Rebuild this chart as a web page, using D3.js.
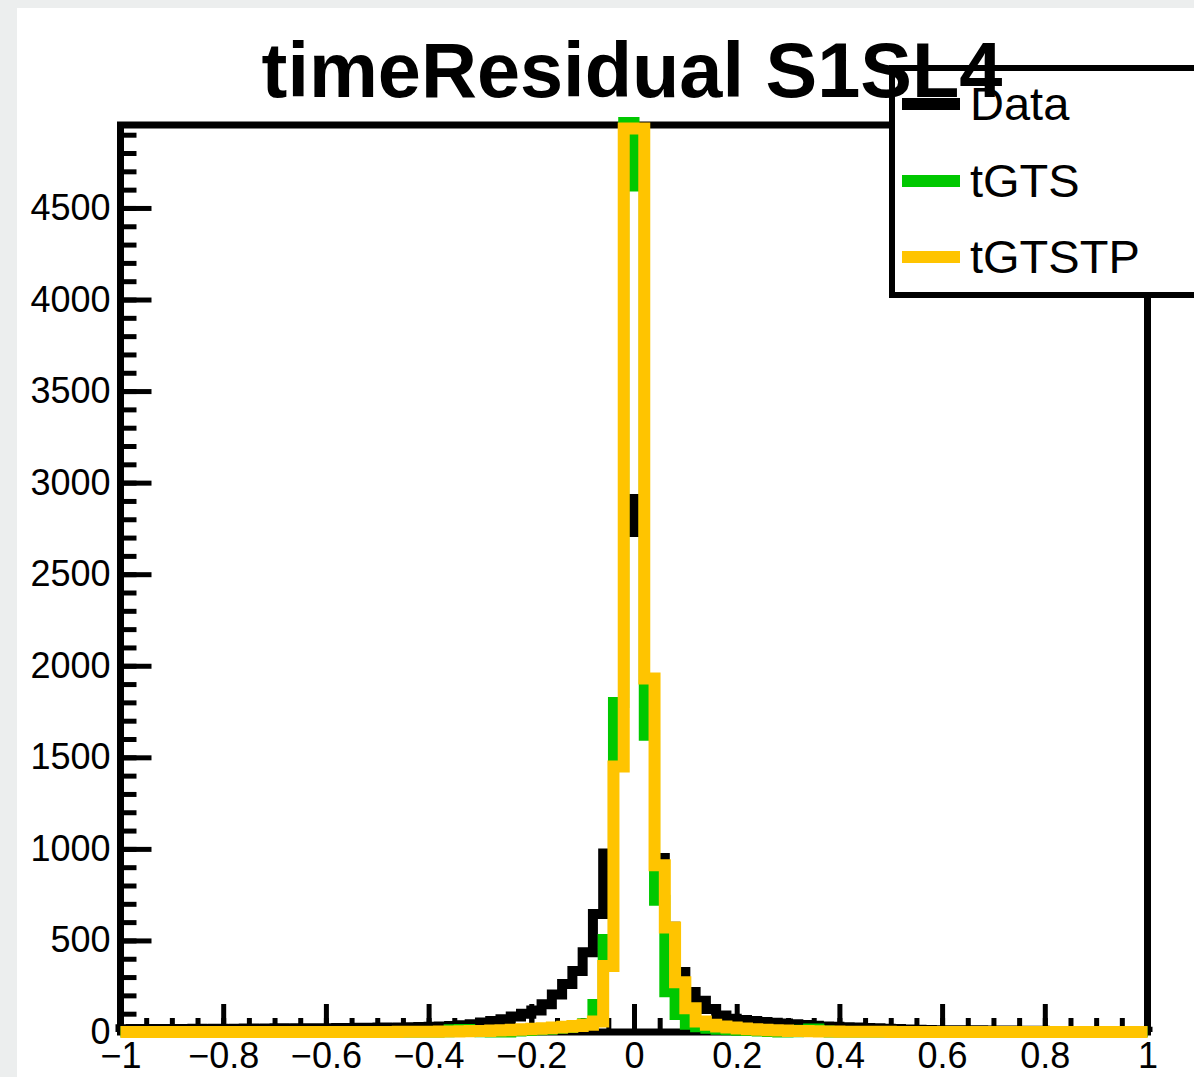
<!DOCTYPE html>
<html>
<head>
<meta charset="utf-8">
<script src="https://cdn.jsdelivr.net/npm/d3@7"></script>
<style>
    html, body { margin: 0; padding: 0; background: #eceeee; }
    svg { display: block; }
</style>
</head>
<body>
<svg id="chart" width="1194" height="1077"></svg>
<script>
// histogram binning: 100 bins of 0.02 from -1 to 1
const binStart = -1, binEnd = 1, binWidth = 0.02;

// bin counts, left to right
const dataCounts = [
    15, 16, 15, 17, 16, 17, 16, 18, 17, 18,
    17, 18, 19, 18, 19, 20, 19, 20, 21, 20,
    21, 22, 21, 23, 22, 24, 23, 25, 26, 27,
    28, 30, 33, 37, 43, 52, 60, 70, 85, 100,
    118, 152, 205, 262, 333, 436, 645, 975, 1450, 2910,
    2730, 1910, 950, 575, 328, 218, 170, 125, 90, 72,
    66, 60, 55, 50, 46, 42, 38, 34, 30, 28,
    26, 24, 22, 20, 18, 16, 14, 12, 11, 10,
    10, 9, 9, 9, 8, 8, 8, 7, 7, 7,
    5, 4, 4, 3, 3, 3, 2, 2, 2, 1
];
const tgtsCounts = [
    0, 0, 0, 0, 0, 0, 0, 0, 0, 0,
    0, 0, 0, 0, 0, 0, 0, 0, 0, 0,
    0, 0, 0, 0, 0, 0, 0, 0, 0, 0,
    0, 2, 12, 14, 4, 2, 0, 0, 5, 8,
    12, 15, 20, 25, 30, 45, 150, 505, 1800, 4967,
    4620, 1620, 720, 220, 95, 42, 28, 20, 15, 12,
    10, 8, 6, 3, 0, 2, 10, 16, 6, 0,
    0, 0, 0, 0, 0, 0, 0, 0, 0, 0,
    0, 0, 0, 0, 0, 0, 0, 0, 0, 0,
    0, 0, 0, 0, 0, 0, 0, 0, 0, 0
];
const tgtstpCounts = [
    0, 0, 0, 0, 0, 0, 0, 0, 0, 0,
    0, 0, 0, 0, 0, 0, 0, 0, 0, 0,
    0, 0, 0, 0, 0, 0, 0, 1, 1, 2,
    2, 3, 3, 4, 5, 6, 8, 10, 12, 15,
    18, 21, 24, 28, 33, 40, 58, 360, 1450, 4934,
    4934, 1930, 910, 570, 272, 130, 58, 40, 30, 24,
    19, 15, 12, 10, 8, 6, 5, 4, 3, 3,
    2, 2, 1, 1, 1, 0, 0, 0, 0, 0,
    0, 0, 0, 0, 0, 0, 0, 0, 0, 0,
    0, 0, 0, 0, 0, 0, 0, 0, 0, 0
];

const seriesNames = ['Data', 'tGTS', 'tGTSTP'];
const seriesColors = ['#000000', '#00c800', '#ffc400'];
const seriesWidths = [10, 11, 12];

const xTicks = [-1, -0.8, -0.6, -0.4, -0.2, 0, 0.2, 0.4, 0.6, 0.8, 1];
const xTickLabels = ['\u22121', '\u22120.8', '\u22120.6', '\u22120.4', '\u22120.2', '0', '0.2', '0.4', '0.6', '0.8', '1'];
const yTicks = [0, 500, 1000, 1500, 2000, 2500, 3000, 3500, 4000, 4500];
const yTickLabels = ['0', '500', '1000', '1500', '2000', '2500', '3000', '3500', '4000', '4500'];
const yMax = 4953;
const titleText = 'timeResidual S1SL4';

(function () {
    var font = '"Liberation Sans", Arial, Helvetica, sans-serif';
    var svg = d3.select('#chart');

    // white pad
    svg.append('rect')
        .attr('x', 17).attr('y', 8)
        .attr('width', 1194 - 17).attr('height', 1077 - 8)
        .attr('fill', '#ffffff');

    var frame = { left: 120.5, right: 1147.5, top: 125, bottom: 1032 };
    var x = d3.scaleLinear().domain([binStart, binEnd]).range([frame.left, frame.right]);
    var y = d3.scaleLinear().domain([0, yMax]).range([frame.bottom, frame.top]);

    //frame
    svg.append('rect')
        .attr('x', frame.left).attr('y', frame.top)
        .attr('width', frame.right - frame.left)
        .attr('height', frame.bottom - frame.top)
        .attr('fill', 'none')
        .attr('stroke', '#000')
        .attr('stroke-width', 7);

    //Y axis, ticks pointing into the frame
    var gy = svg.append('g').attr('transform', `translate(${frame.left},0)`);
    gy.call(d3.axisLeft(y).tickValues(d3.range(0, yMax, 100)).tickSize(-16).tickFormat(''));
    gy.append('g')
        .call(d3.axisLeft(y).tickValues(yTicks).tickSize(-31).tickPadding(10)
            .tickFormat((d, i) => yTickLabels[i]));

    //X axis
    var gx = svg.append('g').attr('transform', `translate(0,${frame.bottom})`);
    gx.call(d3.axisBottom(x).tickValues(d3.range(-1, 1.0001, 0.05)).tickSize(-14).tickFormat(''));
    gx.append('g')
        .call(d3.axisBottom(x).tickValues(xTicks).tickSize(-28).tickPadding(10)
            .tickFormat((d, i) => xTickLabels[i]));

    svg.selectAll('.domain').remove();
    svg.selectAll('.tick line').attr('stroke', '#000').attr('stroke-width', 5);
    svg.selectAll('.tick text')
        .attr('fill', '#000')
        .attr('font-family', font)
        .attr('font-size', 36);

    //histograms, drawn Data -> tGTS -> tGTSTP
    var step = d3.line()
        .x(d => x(d[0]))
        .y(d => y(d[1]))
        .curve(d3.curveStepAfter);

    [dataCounts, tgtsCounts, tgtstpCounts].forEach((counts, k) => {
        var pts = [[binStart, 0]];
        counts.forEach((c, i) => pts.push([binStart + i * binWidth, c]));
        pts.push([binEnd, counts[counts.length - 1]]);
        pts.push([binEnd, 0]);
        svg.append('path')
            .attr('class', 'hist')
            .attr('d', step(pts))
            .attr('fill', 'none')
            .attr('stroke', seriesColors[k])
            .attr('stroke-width', seriesWidths[k])
            .attr('stroke-linejoin', 'miter')
            .attr('stroke-linecap', 'butt');
    });

    //legend
    var lg = svg.append('g').attr('transform', 'translate(892,68)');
    lg.append('rect')
        .attr('width', 420).attr('height', 227)
        .attr('fill', '#fff')
        .attr('stroke', '#000')
        .attr('stroke-width', 6);
    var rowY = [36, 113, 189];
    seriesNames.forEach((name, i) => {
        lg.append('line')
            .attr('x1', 10).attr('x2', 68)
            .attr('y1', rowY[i]).attr('y2', rowY[i])
            .attr('stroke', seriesColors[i])
            .attr('stroke-width', 12);
        lg.append('text')
            .attr('x', 78).attr('y', rowY[i] + 16)
            .attr('font-family', font)
            .attr('font-size', 47)
            .attr('fill', '#000')
            .text(name);
    });

    //title on top
    svg.append('text')
        .attr('x', 632).attr('y', 97)
        .attr('text-anchor', 'middle')
        .attr('font-family', font)
        .attr('font-weight', 'bold')
        .attr('font-size', 77.5)
        .attr('fill', '#000')
        .text(titleText);
})();
</script>
</body>
</html>
